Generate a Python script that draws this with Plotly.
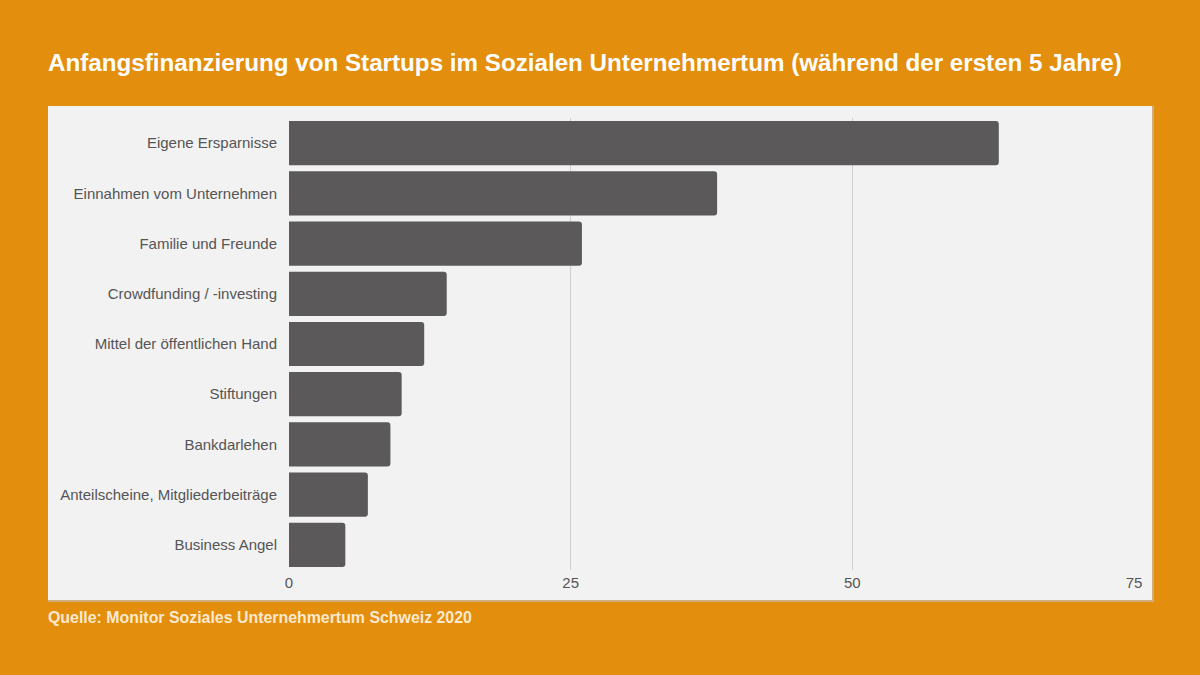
import plotly.graph_objects as go

# Anfangsfinanzierung, Anteil in %
categories = ['Eigene Ersparnisse', 'Einnahmen vom Unternehmen', 'Familie und Freunde',
              'Crowdfunding / -investing', 'Mittel der öffentlichen Hand', 'Stiftungen',
              'Bankdarlehen', 'Anteilscheine, Mitgliederbeiträge', 'Business Angel']
values = [63, 38, 26, 14, 12, 10, 9, 7, 5]
tick_vals = [0, 25, 50, 75]

orange = '#e38e0c'
panel = '#f2f2f2'
bar_color = '#5b595a'
text_color = '#555555'

fig = go.Figure()
fig.add_trace(go.Bar(
    x=values, y=categories, orientation='h',
    marker=dict(color=bar_color, line=dict(width=0)),
    hoverinfo='x+y',
))

fig.update_layout(
    width=1200, height=675,
    paper_bgcolor=orange,
    plot_bgcolor=panel,
    margin=dict(l=289, r=66, t=118, b=105, autoexpand=False),
    bargap=0.12,
    barcornerradius=3,
    showlegend=False,
    font=dict(family='Liberation Sans, Arial, sans-serif', size=15, color=text_color),
    xaxis=dict(
        range=[0, 75], tickvals=tick_vals, showgrid=True, gridcolor='#cfcfcf', gridwidth=1,
        zeroline=False, showline=False, ticks='', ticklabelstandoff=2,
        tickfont=dict(size=15, color=text_color),
    ),
    yaxis=dict(
        autorange='reversed', showgrid=False, zeroline=False, showline=False,
        ticks='', ticklabelstandoff=11, tickfont=dict(size=15, color=text_color),
    ),
    shapes=[
        # shadow of the panel
        dict(type='rect', xref='paper', yref='paper', layer='below',
             x0=-0.2852, x1=1.0237, y0=-0.0708, y1=1.0265,
             fillcolor='#d0ad7a', line=dict(width=0)),
        dict(type='rect', xref='paper', yref='paper', layer='below',
             x0=-0.2852, x1=1.0213, y0=-0.0664, y1=1.0265,
             fillcolor=panel, line=dict(width=0)),
    ],
    annotations=[
        dict(xref='paper', yref='paper', x=-0.2876, y=1.1217, xanchor='left', yanchor='middle',
             text='<b>Anfangsfinanzierung von Startups im Sozialen Unternehmertum (während der ersten 5 Jahre)</b>',
             font=dict(size=24.2, color='white'), showarrow=False),
        dict(xref='paper', yref='paper', x=-0.2876, y=-0.104, xanchor='left', yanchor='middle',
             text='<b>Quelle: Monitor Soziales Unternehmertum Schweiz 2020</b>',
             font=dict(size=15.9, color='#fbe9cf'), showarrow=False),
    ],
)

fig.write_html("out.html", config={'displayModeBar': False},
               post_script="document.body.style.margin='0';")
